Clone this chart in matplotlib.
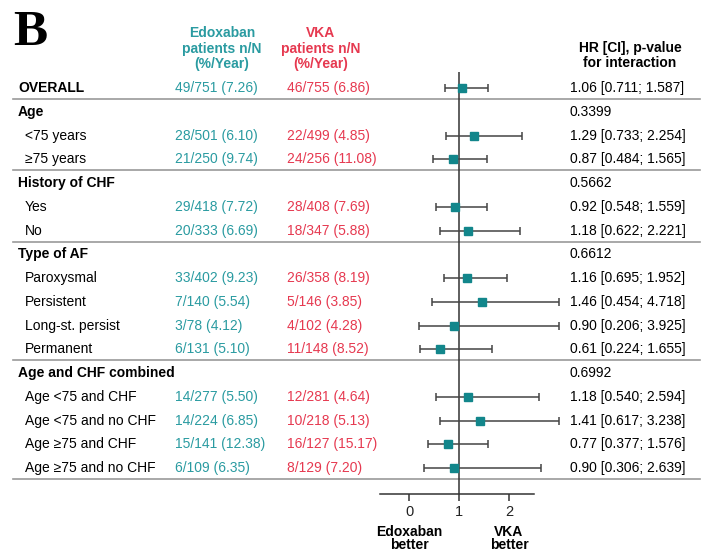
import numpy as np
import matplotlib.pyplot as plt
import matplotlib.transforms as mtransforms

plt.rcParams['font.family'] = ['Liberation Sans', 'DejaVu Sans']

# subgroup table
row_labels = ['OVERALL', 'Age', '<75 years', '≥75 years',
              'History of CHF', 'Yes', 'No',
              'Type of AF', 'Paroxysmal', 'Persistent', 'Long-st. persist', 'Permanent',
              'Age and CHF combined', 'Age <75 and CHF', 'Age <75 and no CHF',
              'Age ≥75 and CHF', 'Age ≥75 and no CHF']
is_header = [True, True, False, False, True, False, False, True, False, False, False, False,
             True, False, False, False, False]
edox = ['49/751 (7.26)', '', '28/501 (6.10)', '21/250 (9.74)',
        '', '29/418 (7.72)', '20/333 (6.69)',
        '', '33/402 (9.23)', '7/140 (5.54)', '3/78 (4.12)', '6/131 (5.10)',
        '', '14/277 (5.50)', '14/224 (6.85)', '15/141 (12.38)', '6/109 (6.35)']
vka = ['46/755 (6.86)', '', '22/499 (4.85)', '24/256 (11.08)',
       '', '28/408 (7.69)', '18/347 (5.88)',
       '', '26/358 (8.19)', '5/146 (3.85)', '4/102 (4.28)', '11/148 (8.52)',
       '', '12/281 (4.64)', '10/218 (5.13)', '16/127 (15.17)', '8/129 (7.20)']
nan = np.nan
hr = np.array([1.06, nan, 1.29, 0.87, nan, 0.92, 1.18, nan, 1.16, 1.46, 0.90, 0.61,
               nan, 1.18, 1.41, 0.77, 0.90])
ci_lo = np.array([0.711, nan, 0.733, 0.484, nan, 0.548, 0.622, nan, 0.695, 0.454, 0.206, 0.224,
                  nan, 0.540, 0.617, 0.377, 0.306])
ci_hi = np.array([1.587, nan, 2.254, 1.565, nan, 1.559, 2.221, nan, 1.952, 4.718, 3.925, 1.655,
                  nan, 2.594, 3.238, 1.576, 2.639])
p_interaction = {1: '0.3399', 4: '0.5662', 7: '0.6612', 12: '0.6992'}
group_ends = [0, 3, 6, 11, 16]

teal = '#2a9ba1'
red = '#e63950'
marker_col = '#12868b'
W, H = 708, 551
row0, step = 88, 23.75   # pixel centre of first row, row pitch
x_clip = 3.0


def px(y):
    # pixel height -> row units
    return (y - row0) / step


fig = plt.figure(figsize=(W / 100, H / 100), dpi=100)
ax = fig.add_axes([0, 0, 1, 1])
ax.set_xlim(0, W)
ax.set_ylim(px(H), px(0))
ax.axis('off')

fs = 10
ax.text(13, px(45), 'B', fontsize=37, fontweight='bold', family='Liberation Serif',
        va='baseline')
ax.text(222, px(48.5), 'Edoxaban\npatients n/N\n(%/Year)', color=teal, fontweight='bold',
        fontsize=fs, ha='center', va='center', linespacing=1.1)
ax.text(321, px(48.5), 'VKA\npatients n/N\n(%/Year)', color=red, fontweight='bold',
        fontsize=fs, ha='center', va='center', linespacing=1.1)
ax.text(630, px(55.5), 'HR [CI], p-value\nfor interaction', fontweight='bold',
        fontsize=fs, ha='center', va='center', linespacing=1.05)

for k, lab in enumerate(row_labels):
    if is_header[k]:
        ax.text(18, k, lab, fontweight='bold', fontsize=fs, va='center')
    else:
        ax.text(25, k, lab, fontsize=fs, va='center')
    ax.text(175, k, edox[k], color=teal, fontsize=fs, va='center')
    ax.text(287, k, vka[k], color=red, fontsize=fs, va='center')
    if not np.isnan(hr[k]):
        ax.text(570, k, f'{hr[k]:.2f} [{ci_lo[k]:.3f}; {ci_hi[k]:.3f}]',
                fontsize=fs, va='center')
    elif k in p_interaction:
        ax.text(570, k, p_interaction[k], fontsize=fs, va='center')

for k in group_ends:
    ax.plot([13, 700], [k + 0.47, k + 0.47], color='#9a9a9a', lw=1.2)

# forest panel
ax_top, ax_bot = 72, 494
fax = fig.add_axes([380 / W, (H - ax_bot) / H, 180 / W, (ax_bot - ax_top) / H])
fax.set_xlim(-0.58, 3.02)
fax.set_ylim(px(ax_bot), px(ax_top))
fax.patch.set_visible(False)
for s in ['top', 'left', 'right']:
    fax.spines[s].set_visible(False)
fax.spines['bottom'].set_bounds(-0.58, 2.5)
fax.spines['bottom'].set_color('#333333')
fax.spines['bottom'].set_linewidth(1.1)
fax.set_yticks([])
fax.set_xticks([0, 1, 2])
fax.tick_params(axis='x', length=5, width=1.1, color='#333333', labelsize=10.5,
                pad=3, labelcolor='#222222')
fax.axvline(1, color='#333333', lw=1.1)

rows = np.arange(len(row_labels))
ok = ~np.isnan(hr)
hi_drawn = np.minimum(ci_hi[ok], x_clip)
fax.errorbar(hr[ok], rows[ok], xerr=[hr[ok] - ci_lo[ok], hi_drawn - hr[ok]], fmt='s',
             color=marker_col, markersize=5.2, ecolor='#444444', elinewidth=1.1,
             capsize=3, capthick=1.1, clip_on=False, zorder=3)

# direction labels under HR = 0 and HR = 2
blend = mtransforms.blended_transform_factory(fax.transData, ax.transData)
ax.text(0, px(538.5), 'Edoxaban\nbetter', transform=blend, ha='center', va='center',
        fontweight='bold', fontsize=fs, linespacing=0.95)
ax.text(2, px(538.5), 'VKA\nbetter', transform=blend, ha='center', va='center',
        fontweight='bold', fontsize=fs, linespacing=0.95)

fig.savefig('out.png', dpi=100)
